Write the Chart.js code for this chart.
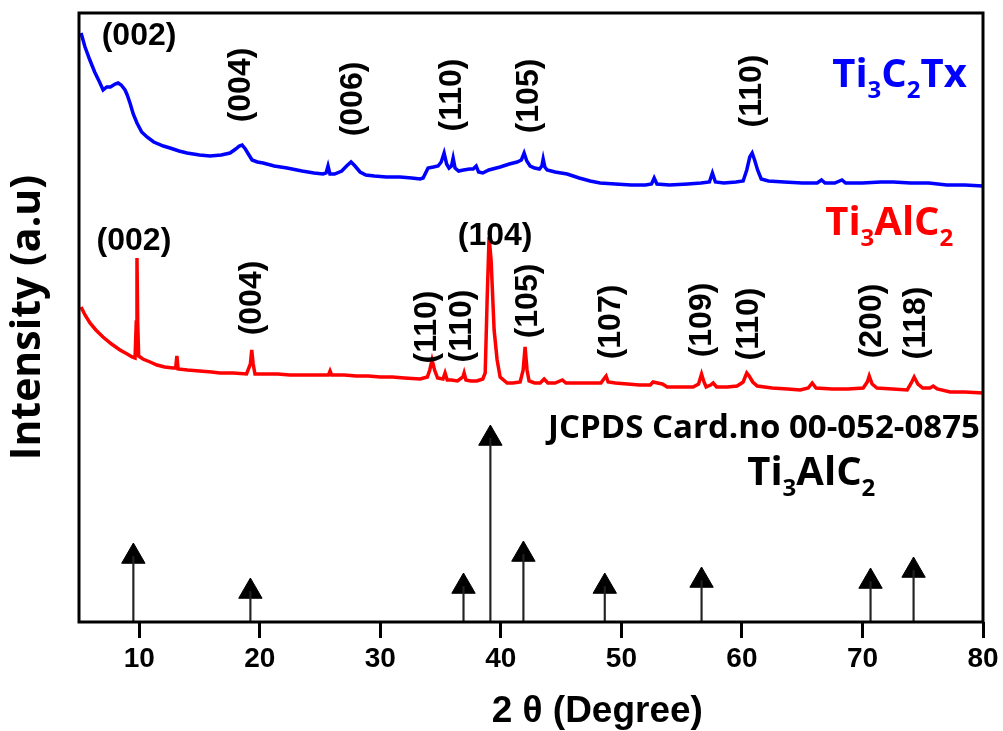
<!DOCTYPE html>
<html lang="en">
<head>
<meta charset="UTF-8">
<title>XRD - Ti3AlC2 / Ti3C2Tx</title>
<script src="https://cdn.jsdelivr.net/npm/chart.js"></script>
<style>
  html, body { margin: 0; padding: 0; background: #fff; }
</style>
</head>
<body>
<canvas id="xrdChart" width="1003" height="731"></canvas>
<script>
// Ti3C2Tx (etched MXene) trace: 2theta (deg) and intensity (a.u.)
const mxTheta = [5.17, 5.5, 5.9, 6.3, 6.7, 7.0, 7.3, 7.6, 8.0, 8.24, 8.5, 8.82, 9.0, 9.23, 9.5, 9.81, 10.2, 10.64, 11.2, 12.0, 12.55, 13.3, 13.96, 15.0, 15.87, 16.8, 17.53, 18.0, 18.3, 18.53, 18.8, 19.1, 19.36, 19.8, 20.27, 21.2, 22.26, 23.5, 24.5, 25.25, 25.5, 25.66, 25.82, 26.2, 26.8, 27.2, 27.57, 27.9, 28.32, 28.8, 29.5, 30.5, 31.64, 32.6, 33.3, 33.55, 33.96, 34.4, 34.79, 35.05, 35.29, 35.5, 35.7, 35.9, 36.04, 36.2, 36.5, 36.9, 37.4, 37.7, 37.95, 38.15, 38.5, 39.0, 39.94, 40.7, 41.35, 41.7, 41.93, 42.15, 42.43, 42.8, 43.2, 43.4, 43.51, 43.65, 43.84, 44.5, 45.5, 46.5, 47.4, 48.24, 49.5, 50.8, 52.0, 52.5, 52.72, 52.95, 54.0, 55.5, 56.6, 57.3, 57.55, 57.8, 58.5, 59.5, 60.1, 60.4, 60.65, 60.85, 61.05, 61.3, 61.6, 62.2, 63.5, 65.0, 66.24, 66.6, 66.9, 67.7, 68.3, 68.6, 70.0, 71.5, 72.55, 74.0, 75.5, 77.0, 78.5, 80.0];
const mxInt = [589, 575, 562, 550, 540, 532, 535, 535, 538, 539, 537, 532, 527, 519, 508, 499, 490, 485, 480, 476, 474, 471, 469, 467, 466, 467, 469, 473, 476, 477, 473, 467, 462, 460, 459, 456, 454, 451, 449, 448, 449, 456, 448, 448, 451, 456, 460, 456, 450, 447, 446, 445, 445, 444, 443, 444, 454, 455, 456, 460, 469, 458, 454, 456, 464, 454, 451, 452, 453, 453, 456, 450, 449, 452, 455, 458, 460, 462, 469, 461, 456, 454, 453, 456, 463, 455, 452, 450, 448, 444, 441, 439, 438, 437, 437, 438, 444, 438, 437, 438, 439, 440, 449, 440, 439, 440, 441, 452, 465, 469, 462, 452, 443, 441, 440, 439, 439, 442, 439, 439, 442, 439, 439, 440, 440, 439, 439, 437, 437, 436];

// Ti3AlC2 (MAX phase) trace
const maxTheta = [5.17, 5.5, 5.91, 6.4, 6.99, 7.7, 8.4, 9.0, 9.4, 9.65, 9.75, 9.81, 9.87, 9.95, 10.3, 10.9, 11.47, 12.1, 12.8, 13.02, 13.12, 13.22, 14.0, 15.0, 16.0, 16.7, 17.8, 18.9, 19.22, 19.33, 19.45, 19.6, 20.5, 21.5, 22.5, 23.59, 24.5, 25.7, 25.83, 25.96, 27.0, 28.0, 29.0, 30.0, 31.0, 32.0, 33.3, 33.9, 34.1, 34.29, 34.5, 34.75, 35.2, 35.37, 35.55, 35.9, 36.4, 36.85, 36.95, 37.1, 37.5, 38.0, 38.5, 38.7, 38.86, 39.02, 39.19, 39.44, 39.69, 39.94, 40.52, 41.0, 41.6, 41.85, 42.01, 42.17, 42.34, 42.8, 43.26, 43.59, 43.9, 44.5, 45.1, 45.4, 46.5, 47.5, 48.3, 48.6, 48.73, 48.9, 49.5, 50.5, 51.5, 52.39, 52.63, 53.0, 53.4, 53.8, 55.0, 55.95, 56.4, 56.65, 56.85, 57.03, 57.4, 57.61, 57.9, 58.8, 59.6, 60.1, 60.4, 60.6, 60.9, 61.27, 62.5, 63.8, 64.83, 65.5, 65.83, 66.15, 67.5, 68.8, 70.06, 70.4, 70.56, 70.8, 71.2, 72.5, 73.71, 74.05, 74.29, 74.6, 75.0, 75.6, 75.87, 76.2, 77.28, 78.5, 80.0];
const maxInt = [315, 307, 299, 292, 285, 278, 272, 268, 265, 264, 300, 364, 300, 266, 263, 260, 257, 255, 254, 254, 266, 253, 252, 251, 250, 249, 249, 248, 258, 272, 258, 248, 248, 248, 247, 247, 247, 247, 251, 247, 247, 246, 246, 245, 245, 244, 243, 245, 252, 262, 252, 244, 243, 249, 242, 242, 241, 245, 249, 242, 241, 241, 243, 249, 322, 385, 362, 292, 262, 245, 239, 239, 240, 252, 275, 252, 241, 239, 239, 243, 239, 239, 242, 239, 239, 239, 239, 244, 246, 240, 239, 238, 237, 237, 240, 239, 238, 235, 235, 235, 238, 248, 240, 235, 237, 239, 235, 235, 236, 240, 249, 246, 240, 236, 234, 233, 232, 234, 239, 234, 233, 233, 234, 240, 246, 238, 234, 233, 232, 239, 245, 238, 234, 234, 236, 233, 230, 230, 229];

// JCPDS 00-052-0875 reference lines for Ti3AlC2
const refTheta = [9.51, 19.22, 36.9, 39.13, 41.87, 48.62, 56.65, 70.67, 74.24];
const refInt = [65.5, 30.5, 35.5, 183.5, 67.5, 35.5, 41.5, 40.5, 51.5];

// peak labels: [text, 2theta, intensity, vertical?]
const mxPeakLabels = [
    ['(002)', 9.98, 586, false],
    ['(004)', 18.49, 537, true],
    ['(006)', 27.74, 523, true],
    ['(110)', 35.95, 527, true],
    ['(105)', 42.34, 526, true],
    ['(110)', 60.85, 531, true]
];
const maxPeakLabels = [
    ['(002)', 9.56, 381, false],
    ['(004)', 19.36, 324, true],
    ['(110)', 33.88, 295, true],
    ['(110)', 36.78, 296, true],
    ['(104)', 39.52, 386, false],
    ['(105)', 42.26, 321, true],
    ['(107)', 49.15, 300, true],
    ['(109)', 56.7, 302, true],
    ['(110)', 60.6, 298, true],
    ['(200)', 70.81, 301, true],
    ['(118)', 74.46, 299, true]
];

function zip(xs, ys) {
    return xs.map((x, i) => ({ x: x, y: ys[i] }));
}

// formula text with subscript digits, drawn from left/baseline
function drawFormula(ctx, parts, x, y, size, color) {
    ctx.save();
    ctx.fillStyle = color;
    ctx.textAlign = 'left';
    ctx.textBaseline = 'alphabetic';
    parts.forEach(p => {
        const sub = /^[0-9]$/.test(p);
        const fs = sub ? size * 0.6 : size;
        ctx.font = 'bold ' + fs + 'px "Open Sans", "DejaVu Sans", sans-serif';
        ctx.fillText(p, x, sub ? y + size * 0.28 : y);
        x += ctx.measureText(p).width;
    });
    ctx.restore();
}

const annotations = {
    id: 'annotations',
    afterDatasetsDraw(chart) {
        const ctx = chart.ctx;
        const xs = chart.scales.x, ys = chart.scales.y;
        const a = chart.chartArea;

        // plot frame
        ctx.save();
        ctx.strokeStyle = '#000';
        ctx.lineWidth = 3;
        ctx.strokeRect(a.left, a.top, a.right - a.left, a.bottom - a.top);
        ctx.restore();

        // miller indices
        ctx.save();
        ctx.fillStyle = '#000';
        ctx.font = 'bold 32px "Liberation Sans", Arial, sans-serif';
        ctx.textAlign = 'center';
        ctx.textBaseline = 'middle';
        mxPeakLabels.concat(maxPeakLabels).forEach(([t, th, v, vert]) => {
            ctx.save();
            ctx.translate(xs.getPixelForValue(th), ys.getPixelForValue(v));
            if (vert) ctx.rotate(-Math.PI / 2);
            ctx.fillText(t, 0, 0);
            ctx.restore();
        });
        ctx.restore();

        drawFormula(ctx, ['Ti', '3', 'C', '2', 'Tx'], xs.getPixelForValue(67.49), ys.getPixelForValue(535), 40, '#0000ff');
        drawFormula(ctx, ['Ti', '3', 'AlC', '2'], xs.getPixelForValue(66.91), ys.getPixelForValue(387), 40, '#ff0000');
        drawFormula(ctx, ['Ti', '3', 'AlC', '2'], xs.getPixelForValue(60.44), ys.getPixelForValue(137), 40, '#000');

        ctx.save();
        ctx.fillStyle = '#000';
        ctx.font = 'bold 33px "Open Sans", "DejaVu Sans", sans-serif';
        ctx.textAlign = 'left';
        ctx.textBaseline = 'alphabetic';
        ctx.fillText('JCPDS Card.no 00-052-0875', xs.getPixelForValue(43.92), ys.getPixelForValue(184));
        ctx.restore();

        // x axis title (sits right of centre in the original figure)
        ctx.save();
        ctx.fillStyle = '#000';
        ctx.font = 'bold 37px "Liberation Sans", Arial, sans-serif';
        ctx.textAlign = 'center';
        ctx.textBaseline = 'middle';
        ctx.fillText('2 θ (Degree)', xs.getPixelForValue(48.0), a.bottom + 90);
        ctx.restore();
    }
};

new Chart(document.getElementById('xrdChart'), {
    type: 'line',
    data: {
        datasets: [
            {
                label: 'Ti3C2Tx',
                data: zip(mxTheta, mxInt),
                borderColor: '#0000ff',
                borderWidth: 3.5,
                pointRadius: 0,
                tension: 0
            },
            {
                label: 'Ti3AlC2',
                data: zip(maxTheta, maxInt),
                borderColor: '#ff0000',
                borderWidth: 3.5,
                pointRadius: 0,
                tension: 0
            },
            {
                type: 'bar',
                label: 'JCPDS lines',
                data: zip(refTheta, refInt),
                backgroundColor: '#222',
                barThickness: 1.5
            },
            {
                type: 'scatter',
                label: 'JCPDS markers',
                data: zip(refTheta, refInt),
                pointStyle: 'triangle',
                pointRadius: 13.5,
                backgroundColor: '#000',
                borderColor: '#000',
                borderWidth: 1
            }
        ]
    },
    options: {
        responsive: false,
        animation: false,
        layout: { padding: { top: 13, right: 20, left: 0, bottom: 0 }, autoPadding: false },
        plugins: { legend: { display: false }, tooltip: { enabled: false } },
        scales: {
            x: {
                type: 'linear',
                min: 5,
                max: 80,
                offset: false,
                afterFit: s => { s.height = 109; },
                grid: {
                    offset: false,
                    drawOnChartArea: false,
                    drawTicks: true,
                    tickLength: 16,
                    tickWidth: 3,
                    tickColor: c => (c.tick && c.tick.value % 10 === 0) ? '#000' : 'rgba(0,0,0,0)'
                },
                border: { display: false },
                ticks: {
                    stepSize: 10,
                    autoSkip: false,
                    color: '#000',
                    padding: 4,
                    maxRotation: 0,
                    callback: v => (v % 10 === 0 ? v : ''),
                    font: { family: '"Liberation Sans", Arial, sans-serif', size: 28, weight: 'bold' }
                }
            },
            y: {
                min: 0,
                max: 609,
                afterFit: s => { s.width = 79; },
                grid: { display: false },
                border: { display: false },
                ticks: { display: false },
                title: {
                    display: true,
                    text: 'Intensity (a.u)',
                    color: '#000',
                    padding: { top: 8, bottom: 0 },
                    font: { family: '"Open Sans", "Liberation Sans", sans-serif', size: 41, weight: 'bold', lineHeight: 1 }
                }
            }
        }
    },
    plugins: [annotations]
});
</script>
</body>
</html>
